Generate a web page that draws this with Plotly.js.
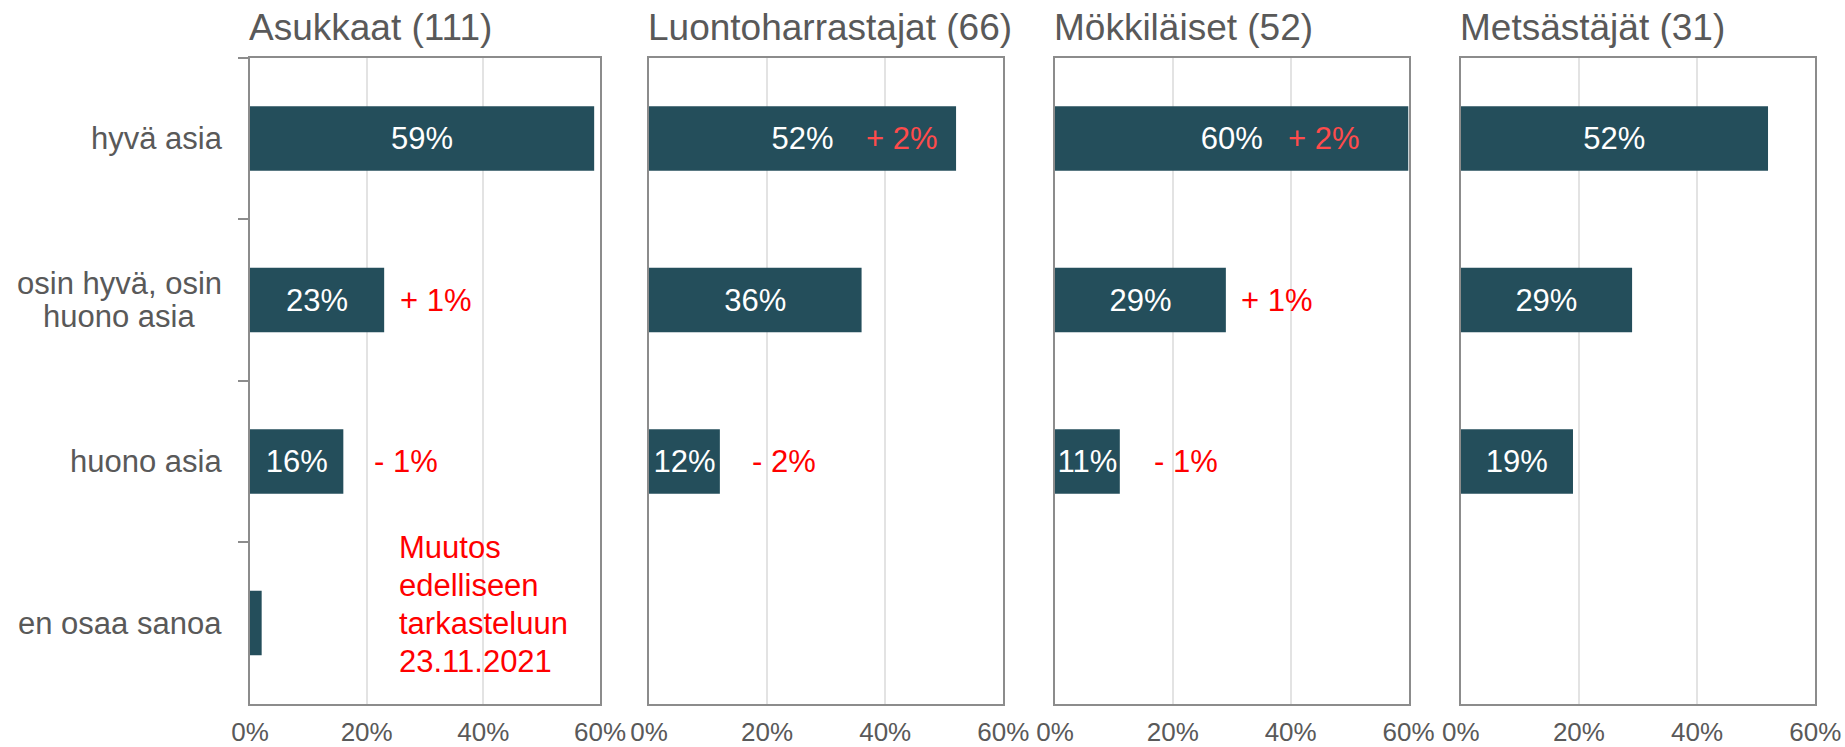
<!DOCTYPE html>
<html>
<head>
<meta charset="utf-8">
<script src="https://cdn.plot.ly/plotly-3.0.1.min.js"></script>
<style>html,body{margin:0;padding:0;background:#fff;overflow:hidden}</style>
</head>
<body>
<div id="chart" style="width:1845px;height:747px"></div>
<script>
// ---------- DATA ----------
const categories = ["hyvä asia", "osin hyvä, osin<br>huono asia", "huono asia", "en osaa sanoa"];
const panelTitles = ["Asukkaat (111)", "Luontoharrastajat (66)", "Mökkiläiset (52)", "Metsästäjät (31)"];

const asukkaat = [59, 23, 16, 2];
const luontoharrastajat = [52, 36, 12, 0];
const mokkilaiset = [60, 29, 11, 0];
const metsastajat = [52, 29, 19, 0];

const asukkaatLabels = ["59%", "23%", "16%", ""];
const luontoharrastajatLabels = ["52%", "36%", "12%", ""];
const mokkilaisetLabels = ["60%", "29%", "11%", ""];
const metsastajatLabels = ["52%", "29%", "19%", ""];

const asukkaatChange = ["", "+ 1%", "- 1%", ""];
const luontoharrastajatChange = ["+ 2%", "", "- 2%", ""];
const mokkilaisetChange = ["+ 2%", "+ 1%", "- 1%", ""];
const metsastajatChange = ["", "", "", ""];

const xTickVals = [0, 20, 40, 60];
const xTickText = ["0%", "20%", "40%", "60%"];
const noteText = "Muutos<br>edelliseen<br>tarkasteluun<br>23.11.2021";

// ---------- STYLE / LAYOUT ----------
const W = 1845, H = 747;
const FONT = "Liberation Sans, Arial, Helvetica, sans-serif";
const BAR = "#244e5b";
const GRAY_TXT = "#595959";
const LINE = "#8c8c8c";
const GRID = "#e3e3e3";
const RED = "#ff0000";
const RED_ON_BAR = "#ff4b4b";

const panelPx = [[250, 600], [649, 1003.3], [1055, 1408.5], [1460.7, 1815.3]];
const yTopPx = 57.75, yBotPx = 703.75;
const yDomain = [(H - yBotPx) / H, (H - yTopPx) / H];

const panelValues = [asukkaat, luontoharrastajat, mokkilaiset, metsastajat];
const panelLabels = [asukkaatLabels, luontoharrastajatLabels, mokkilaisetLabels, metsastajatLabels];
const panelChanges = [asukkaatChange, luontoharrastajatChange, mokkilaisetChange, metsastajatChange];
// pixel shifts of the change notes from the bar end (style)
const changeShift = [[0, 14, 29, 0], [-16, 0, 30, 0], [-47, 13, 32, 0], [0, 0, 0, 0]];

// text width measurement (for centred multi-line labels)
const ctx = document.createElement("canvas").getContext("2d");
function textW(t, size) {
  ctx.font = size + "px " + FONT;
  return ctx.measureText(t).width;
}

const data = [];
const layout = {
  width: W, height: H,
  margin: {l: 0, r: 0, t: 0, b: 0},
  paper_bgcolor: "#ffffff",
  plot_bgcolor: "#ffffff",
  showlegend: false,
  bargap: 0.6,
  font: {family: FONT, color: GRAY_TXT},
  annotations: []
};

for (let i = 0; i < 4; i++) {
  const n = i === 0 ? "" : String(i + 1);
  const xa = "x" + n, ya = "y" + n;
  data.push({
    type: "bar",
    orientation: "h",
    x: panelValues[i],
    y: categories,
    xaxis: xa, yaxis: ya,
    marker: {color: BAR},
    text: panelLabels[i],
    textposition: "inside",
    insidetextanchor: "middle",
    constraintext: "none",
    textangle: 0,
    insidetextfont: {family: FONT, size: 31, color: "#ffffff"},
    hoverinfo: "none"
  });
  layout["xaxis" + n] = {
    domain: [panelPx[i][0] / W, panelPx[i][1] / W],
    anchor: ya,
    range: [0, 60],
    autorange: false,
    tickvals: xTickVals,
    ticktext: xTickText,
    showgrid: true,
    gridcolor: GRID,
    gridwidth: 2,
    zeroline: false,
    showline: true,
    mirror: true,
    linecolor: LINE,
    linewidth: 2,
    ticks: "",
    ticklabelstandoff: 4,
    tickfont: {family: FONT, size: 26, color: GRAY_TXT},
    fixedrange: true
  };
  layout["yaxis" + n] = {
    domain: yDomain,
    anchor: xa,
    type: "category",
    categoryorder: "array",
    categoryarray: categories,
    range: [categories.length - 0.5, -0.5],
    autorange: false,
    showgrid: false,
    zeroline: false,
    showline: true,
    mirror: true,
    linecolor: LINE,
    linewidth: 2,
    showticklabels: false,
    ticks: i === 0 ? "outside" : "",
    tickson: "boundaries",
    ticklen: 10,
    tickwidth: 2,
    tickcolor: LINE,
    fixedrange: true
  };
  // panel title
  layout.annotations.push({
    xref: xa + " domain", yref: "paper",
    x: 0, y: (H - 27) / H,
    xanchor: "left", yanchor: "middle",
    xshift: -3,
    text: panelTitles[i],
    showarrow: false,
    font: {family: FONT, size: 37, color: GRAY_TXT}
  });
  // change notes
  panelChanges[i].forEach((t, j) => {
    if (!t) return;
    const s = changeShift[i][j];
    layout.annotations.push({
      xref: xa, yref: ya,
      x: panelValues[i][j], y: categories[j],
      xanchor: s >= 0 ? "left" : "right",
      yanchor: "middle",
      xshift: s,
      text: t,
      showarrow: false,
      font: {family: FONT, size: 31, color: s >= 0 ? RED : RED_ON_BAR}
    });
  });
}

// category labels (left of first panel, centred lines, tighter line spacing)
const CAT_SIZE = 31, CAT_LINE = 33, CAT_RIGHT = 28;
categories.forEach(c => {
  const lines = c.split("<br>");
  const maxW = Math.max(...lines.map(l => textW(l, CAT_SIZE)));
  lines.forEach((l, k) => {
    layout.annotations.push({
      xref: "x domain", yref: "y",
      x: 0, y: c,
      xanchor: "center", yanchor: "middle",
      xshift: -CAT_RIGHT - maxW / 2,
      yshift: ((lines.length - 1) / 2 - k) * CAT_LINE,
      text: l,
      showarrow: false,
      font: {family: FONT, size: CAT_SIZE, color: GRAY_TXT}
    });
  });
});

// note about change (one annotation per line for the tighter spacing)
const NOTE_LINE = 38, NOTE_UP = 19;
const noteLines = noteText.split("<br>");
noteLines.forEach((l, k) => {
  layout.annotations.push({
    xref: "x", yref: "y",
    x: 25.2, y: categories[3],
    xanchor: "left", yanchor: "middle",
    yshift: NOTE_UP + ((noteLines.length - 1) / 2 - k) * NOTE_LINE,
    text: l,
    showarrow: false,
    font: {family: FONT, size: 31, color: RED}
  });
});

Plotly.newPlot("chart", data, layout, {displayModeBar: false, staticPlot: true});
</script>
</body>
</html>
